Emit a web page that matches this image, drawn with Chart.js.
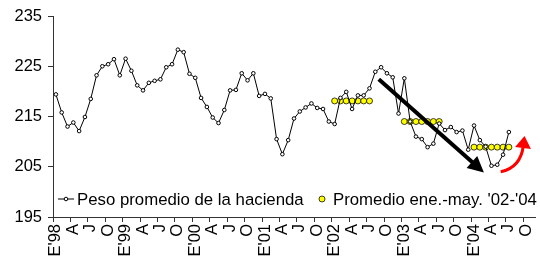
<!DOCTYPE html>
<html>
<head>
<meta charset="utf-8">
<script src="https://cdn.jsdelivr.net/npm/chart.js@4"></script>
<style>
  html, body { margin: 0; padding: 0; background: #fff; }
  #wrap { width: 540px; height: 267px; position: relative; }
</style>
</head>
<body>
<div id="wrap"><canvas id="chart"></canvas></div>
<script>
// axis labels: one category per month, E'98 .. Nov '04
const years = ["'98", "'99", "'00", "'01", "'02", "'03", "'04"]
const quarterLetters = ['E', 'A', 'J', 'O']
const monthCount = 83

// peso promedio de la hacienda, jan '98 .. jul '04 (kg)
const pesoPromedio = [
  219.4, 215.8, 213.0, 213.8, 212.1, 214.9, 218.5, 223.2, 225.0, 225.4, 226.4, 223.2,
  226.5, 224.1, 221.2, 220.2, 221.7, 222.1, 222.4, 224.8, 225.4, 228.3, 227.8, 223.5,
  222.7, 218.7, 216.9, 214.8, 213.7, 216.3, 220.2, 220.3, 223.6, 222.2, 223.6, 219.1,
  219.5, 218.6, 210.5, 207.5, 210.3, 214.6, 216.0, 216.8, 217.6, 216.7, 216.5, 214.0,
  213.5, 218.7, 219.9, 216.5, 219.2, 219.2, 220.6, 223.9, 224.8, 223.6, 222.8, 215.6,
  222.6, 214.0, 211.0, 210.5, 208.9, 209.6, 213.6, 212.3, 212.9, 211.9, 212.2, 208.4,
  213.2, 210.3, 209.0, 205.2, 205.4, 207.4, 211.9
]

// promedio ene.-may. of each year, drawn over jan..jul
const promedioYearIndex = [4, 5, 6]   // '02, '03, '04
const promedioValues = [218.1, 214.0, 208.9]
const promedioSpan = 7

// annotation arrows, in (month index, kg)
const trendArrow = { from: [55.6, 222.4], to: [73.7, 203.85] }
const upArrow = { from: [76.6, 204.0], ctrl: [80.0, 204.8], to: [80.7, 211.1] }

const labels = []
for (let i = 0; i < monthCount; i++) {
  const m = i % 12
  if (m === 0) labels.push(quarterLetters[0] + years[Math.floor(i / 12)])
  else if (m % 3 === 0) labels.push(quarterLetters[m / 3])
  else labels.push('')
}

const promedio = new Array(monthCount).fill(null)
promedioYearIndex.forEach((yi, k) => {
  for (let m = 0; m < promedioSpan; m++) promedio[yi * 12 + m] = promedioValues[k]
})

const FONT = "'Liberation Sans', Arial, sans-serif"

const insideLegend = {
  id: 'insideLegend',
  afterDraw(chart) {
    const { ctx, chartArea } = chart
    const y = chartArea.bottom - 18
    ctx.save()
    ctx.font = '16.8px ' + FONT
    ctx.fillStyle = '#000'
    ctx.textBaseline = 'middle'
    // line series
    ctx.strokeStyle = '#000'
    ctx.lineWidth = 1
    ctx.beginPath()
    ctx.moveTo(58, y); ctx.lineTo(74, y)
    ctx.stroke()
    ctx.beginPath()
    ctx.arc(66, y, 1.8, 0, Math.PI * 2)
    ctx.fillStyle = '#fff'; ctx.fill(); ctx.stroke()
    ctx.fillStyle = '#000'
    ctx.fillText(chart.data.datasets[0].label, 77, y + 1)
    // dots series
    ctx.beginPath()
    ctx.arc(322, y, 3, 0, Math.PI * 2)
    ctx.fillStyle = '#ffff00'; ctx.fill()
    ctx.lineWidth = 0.75; ctx.stroke()
    ctx.fillStyle = '#000'
    ctx.fillText(chart.data.datasets[1].label, 333, y + 1)
    ctx.restore()
  }
}

const arrows = {
  id: 'arrows',
  afterDatasetsDraw(chart) {
    const { ctx } = chart
    const xs = chart.scales.x, ys = chart.scales.y
    const px = p => [xs.getPixelForValue(p[0]), ys.getPixelForValue(p[1])]

    const head = (tip, ang, len, half, color) => {
      ctx.beginPath()
      ctx.moveTo(tip[0], tip[1])
      ctx.lineTo(tip[0] - len * Math.cos(ang) + half * Math.sin(ang), tip[1] - len * Math.sin(ang) - half * Math.cos(ang))
      ctx.lineTo(tip[0] - len * Math.cos(ang) - half * Math.sin(ang), tip[1] - len * Math.sin(ang) + half * Math.cos(ang))
      ctx.closePath()
      ctx.fillStyle = color
      ctx.fill()
    }

    ctx.save()
    // black trend arrow
    const a = px(trendArrow.from), b = px(trendArrow.to)
    const ang = Math.atan2(b[1] - a[1], b[0] - a[0])
    ctx.strokeStyle = '#000'
    ctx.lineWidth = 4
    ctx.beginPath()
    ctx.moveTo(a[0], a[1])
    ctx.lineTo(b[0] - 12 * Math.cos(ang), b[1] - 12 * Math.sin(ang))
    ctx.stroke()
    head(b, ang, 16, 8, '#000')

    // red curved arrow
    const s = px(upArrow.from), c = px(upArrow.ctrl), t = px(upArrow.to)
    const ang2 = Math.atan2(t[1] - c[1], t[0] - c[0])
    ctx.strokeStyle = '#ff0000'
    ctx.lineWidth = 3
    ctx.beginPath()
    ctx.moveTo(s[0], s[1])
    ctx.quadraticCurveTo(c[0], c[1], t[0] - 10 * Math.cos(ang2), t[1] - 10 * Math.sin(ang2))
    ctx.stroke()
    head(t, ang2, 12, 8, '#ff0000')
    ctx.restore()
  }
}

new Chart(document.getElementById('chart'), {
  type: 'line',
  data: {
    labels,
    datasets: [
      {
        label: 'Peso promedio de la hacienda',
        data: pesoPromedio,
        borderColor: '#000',
        borderWidth: 1,
        pointRadius: 1.8,
        pointBorderWidth: 1,
        pointBackgroundColor: '#fff',
        pointBorderColor: '#000',
        tension: 0
      },
      {
        label: "Promedio ene.-may. '02-'04",
        data: promedio,
        showLine: false,
        pointRadius: 3,
        pointBorderWidth: 0.75,
        pointBackgroundColor: '#ffff00',
        pointBorderColor: '#000'
      }
    ]
  },
  options: {
    responsive: true,
    maintainAspectRatio: false,
    animation: false,
    layout: { padding: { top: 16, right: 0, left: 0, bottom: 0 } },
    plugins: { legend: { display: false }, tooltip: { enabled: false } },
    scales: {
      x: {
        type: 'category',
        offset: true,
        afterFit: s => { s.height = 50; s.paddingLeft = 0; s.paddingRight = 0 },
        border: { color: '#333', width: 1 },
        grid: {
          drawOnChartArea: false,
          offset: true,
          tickLength: 5,
          tickColor: ctx => (ctx.index % 3 === 0 ? '#333' : 'rgba(0,0,0,0)')
        },
        ticks: {
          autoSkip: false,
          minRotation: 90,
          maxRotation: 90,
          padding: 2,
          color: '#000',
          font: { family: FONT, size: 16.5 }
        }
      },
      y: {
        min: 195,
        max: 235,
        afterFit: s => { s.width = 53; s.paddingTop = 0; s.paddingBottom = 0 },
        border: { color: '#333', width: 1 },
        grid: { drawOnChartArea: false, tickLength: 5, color: '#333' },
        ticks: {
          stepSize: 10,
          padding: 6,
          color: '#000',
          font: { family: FONT, size: 16.5 }
        }
      }
    }
  },
  plugins: [arrows, insideLegend]
})
</script>
</body>
</html>
